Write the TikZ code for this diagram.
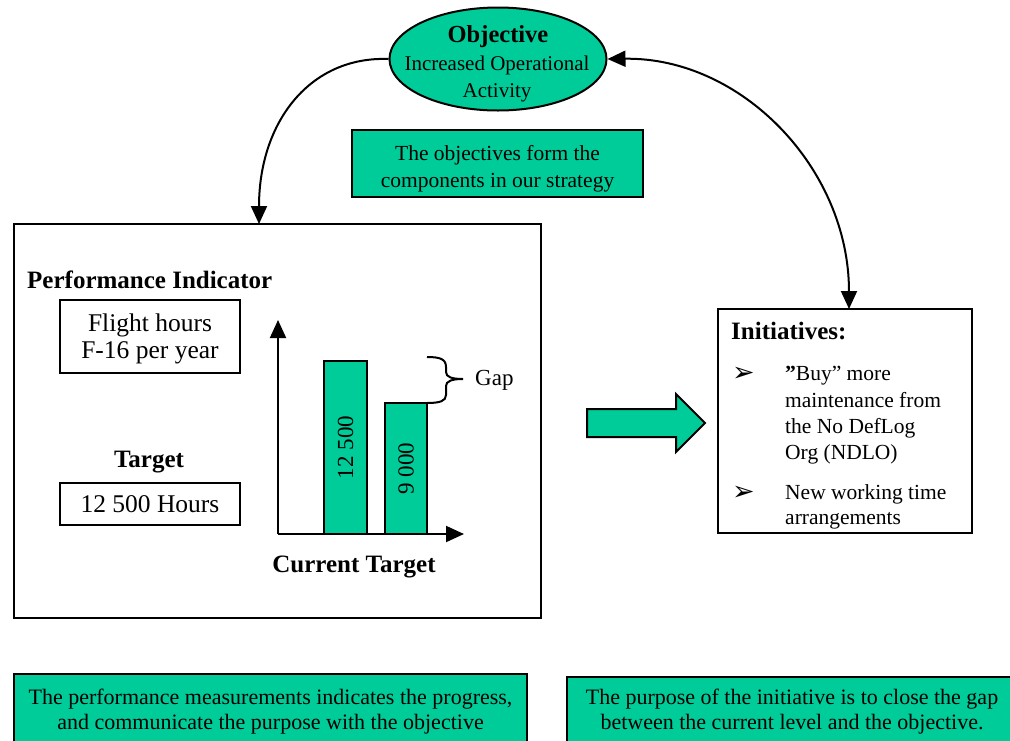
\documentclass[tikz,border=0pt]{standalone}
\usepackage{fontspec}
\setmainfont{Liberation Serif}
\newfontfamily\symfont{DejaVu Sans}
\usetikzlibrary{arrows.meta,shapes.geometric}
\definecolor{tgreen}{RGB}{0,204,153}
\begin{document}
\begin{tikzpicture}[x=1pt,y=-1pt,
  lw/.style={line width=2pt},
  gbox/.style={draw,lw,fill=tgreen,inner sep=0pt},
  wbox/.style={draw,lw,fill=white,inner sep=0pt},
  tx/.style={inner sep=0pt,anchor=base},
  txw/.style={inner sep=0pt,anchor=base west},
  f21/.style={font=\fontsize{21}{25}\selectfont},
  f215/.style={font=\fontsize{21.5}{25}\selectfont},
  f22/.style={font=\fontsize{22}{26}\selectfont},
  f23/.style={font=\fontsize{23}{27}\selectfont},
  f25/.style={font=\fontsize{25.5}{29}\selectfont},
  b24/.style={font=\fontsize{24.5}{28}\selectfont\bfseries},
  b25/.style={font=\fontsize{25}{29}\selectfont\bfseries},
  bulf/.style={font=\symfont\fontsize{27}{27}\selectfont},
  tipend/.style={-{Triangle[length=18pt,width=16pt]}},
  tipboth/.style={{Triangle[length=18pt,width=16pt]}-{Triangle[length=18pt,width=16pt]}}
]
\useasboundingbox (0,0) rectangle (1010,740);

% objective ellipse
\node[ellipse,draw,lw,fill=tgreen,minimum width=217pt,minimum height=103pt,inner sep=0pt] (obj) at (498,59) {};
\node[tx,b24] (objt) at (498,42) {Objective};
\node[tx,f21] (obj1) at (497,70) {Increased Operational};
\node[tx,f21] (obj2) at (497,97) {Activity};

% strategy box
\node[gbox,minimum width=291pt,minimum height=67pt] (strat) at (497.5,163.5) {};
\node[tx,f215] (strat1) at (497.5,160) {The objectives form the};
\node[tx,f215] (strat2) at (497.5,187) {components in our strategy};

% main performance box
\node[wbox,minimum width=527pt,minimum height=394pt] (pbox) at (277.5,421) {};
\coordinate (pin) at (259,224);
\node[txw,b25] (pind) at (27,288) {Performance Indicator};
\node[wbox,minimum width=180pt,minimum height=73pt] (fbox) at (150,336.5) {};
\node[tx,f25] (fbox1) at (150,331) {Flight hours};
\node[tx,f25] (fbox2) at (150,358) {F-16 per year};
\node[tx,b25] (targ) at (149,467) {Target};
\node[wbox,minimum width=180pt,minimum height=42pt] (hbox) at (150,504) {};
\node[tx,f25] (hbox1) at (150,512) {12 500 Hours};

% chart
\coordinate (org) at (278,534);
\coordinate (ytop) at (278,320);
\coordinate (xend) at (464,534);
\node[gbox,rotate=90,minimum width=173pt,minimum height=43pt,f23] (bar1) at (345.5,447.5) {12 500};
\node[gbox,rotate=90,minimum width=131pt,minimum height=42pt,f23] (bar2) at (406,468.5) {9 000};
\draw[lw,tipend] (org) -- (ytop);
\draw[lw,tipend] (org) -- (xend);
\draw[lw] (427,357) .. controls (440,357) and (446,359) .. (446,367) -- (446,372)
  .. controls (446,377) and (452,379) .. (463,379)
  .. controls (452,379) and (446,381) .. (446,386) -- (446,395)
  .. controls (446,401) and (440,403) .. (427,403);
\node[txw,f23] (gap) at (475,385) {Gap};
\node[tx,b25] (cur) at (354,572) {Current Target};

% block arrow
\draw[lw,fill=tgreen,line join=miter] (587,409) -- (676,409) -- (676,394) -- (705,423)
  -- (676,452) -- (676,437) -- (587,437) -- cycle;

% initiatives box
\node[wbox,minimum width=254pt,minimum height=224pt] (init) at (845,421) {};
\coordinate (iin) at (849,309);
\node[txw,b25] (ititle) at (731,339) {Initiatives:};
\node[txw,bulf] (bul1) at (732,381) {➢};
\node[txw,bulf] (bul2) at (732,500) {➢};
\node[txw,f215] (i1) at (785,380) {\textbf{”}Buy” more};
\node[txw,f215] (i2) at (785,407) {maintenance from};
\node[txw,f215] (i3) at (785,433) {the No DefLog};
\node[txw,f215] (i4) at (785,459) {Org (NDLO)};
\node[txw,f215] (i5) at (785,499) {New working time};
\node[txw,f215] (i6) at (785,524) {arrangements};

% connectors
\draw[lw,tipend] (obj.west) .. controls (310,56) and (259,122) .. (pin);
\draw[lw,tipboth] (obj.east) .. controls (741,57) and (849,168) .. (iin);

% bottom boxes
\node[gbox,minimum width=513pt,minimum height=86pt] (pm) at (270.5,717) {};
\node[tx,f22] (pm1) at (270.5,704) {The performance measurements indicates the progress,};
\node[tx,f22] (pm2) at (270.5,729) {and communicate the purpose with the objective};
\node[gbox,minimum width=448pt,minimum height=86pt] (pu) at (791,720) {};
\node[tx,f22] (pu1) at (792,704) {The purpose of the initiative is to close the gap};
\node[tx,f22] (pu2) at (792,729) {between the current level and the objective.};
\end{tikzpicture}
\end{document}
